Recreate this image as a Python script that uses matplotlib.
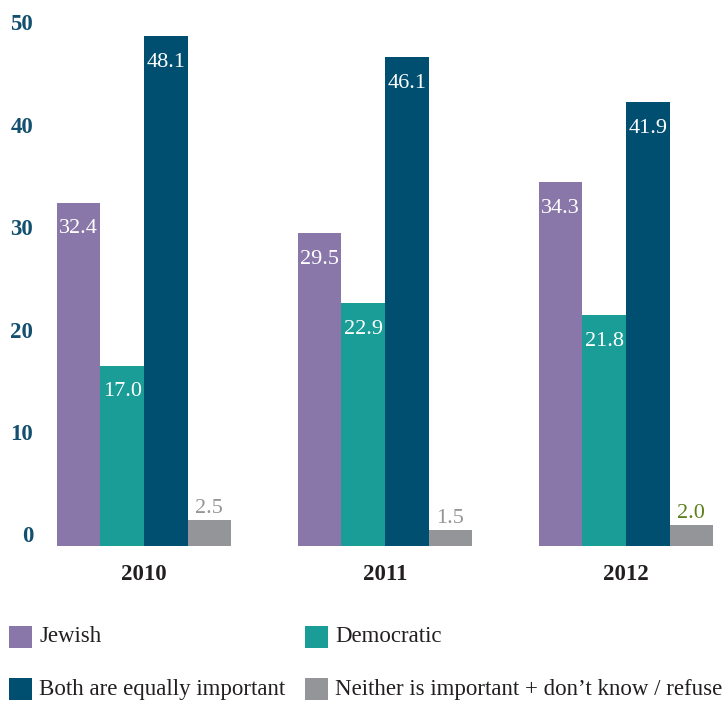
import matplotlib
matplotlib.use("Agg")
import matplotlib.pyplot as plt
from matplotlib.patches import Rectangle
import numpy as np

years = ["2010", "2011", "2012"]
series = ["Jewish", "Democratic", "Both are equally important",
          "Neither is important + don\u2019t know / refuse"]
jewish = [32.4, 29.5, 34.3]
democratic = [17.0, 22.9, 21.8]
both = [48.1, 46.1, 41.9]
neither = [2.5, 1.5, 2.0]
yticks = [0, 10, 20, 30, 40, 50]

colors = ["#8a77a9", "#1a9c97", "#004f71", "#939598"]
values = [jewish, democratic, both, neither]

plt.rcParams['font.family'] = ['Liberation Serif', 'DejaVu Serif']

W, H = 728, 702
fig = plt.figure(figsize=(W / 100, H / 100), dpi=100)
ax = fig.add_axes([40 / W, (H - 546) / H, (W - 40) / W, (546 - 10) / H])

x = np.arange(len(years))
bw = 0.181
offsets = np.array([-1.5, -0.5, 0.5, 1.5]) * bw
for vals, col, off in zip(values, colors, offsets):
    ax.bar(x + off, vals, width=bw, color=col, linewidth=0)

for i, (vals, off) in enumerate(zip(values, offsets)):
    for xi, v in zip(x, vals):
        if i < 3:
            ax.annotate(f"{v:.1f}", (xi + off, v), xytext=(0, -12),
                        textcoords="offset points", ha="center", va="top",
                        color="white", fontsize=16)
        else:
            tc = "#5e7f1c" if xi == 2 else "#939598"
            ax.annotate(f"{v:.1f}", (xi + off, v), xytext=(0, 5),
                        textcoords="offset points", ha="center", va="baseline",
                        color=tc, fontsize=16)

ax.set_xlim((40 - 144) / 241, (728 - 144) / 241)
ax.set_ylim(0, 536 / 10.6)
ax.set_yticks(yticks)
ax.set_yticklabels([])
for t in yticks:
    # labels in the original sit on a slightly compressed scale
    dy_px = -9 + 18 * t / 50
    ax.annotate(str(t), (0, t), xycoords=("axes fraction", "data"),
                xytext=(-5, -dy_px * 0.72), textcoords="offset points",
                ha="right", va="center", fontsize=16.5, fontweight="bold",
                color="#134f6f", annotation_clip=False)
ax.set_xticks(x)
ax.set_xticklabels(years, fontsize=16.5, fontweight="bold", color="#231f20")
ax.tick_params(axis="both", length=0)
ax.tick_params(axis="x", pad=13)
for s in ax.spines.values():
    s.set_visible(False)

# legend
pos = [(9, 626), (305, 626), (9, 678), (305, 678)]
for (px, py), name, col in zip(pos, series, colors):
    fig.patches.append(Rectangle((px / W, 1 - (py + 22) / H), 23 / W, 22 / H,
                                 transform=fig.transFigure, color=col,
                                 linewidth=0))
    fig.text((px + 30) / W, 1 - (py + 11) / H, name, fontsize=16.5,
             color="#231f20", va="center", ha="left")

fig.savefig("out.png", dpi=100)
